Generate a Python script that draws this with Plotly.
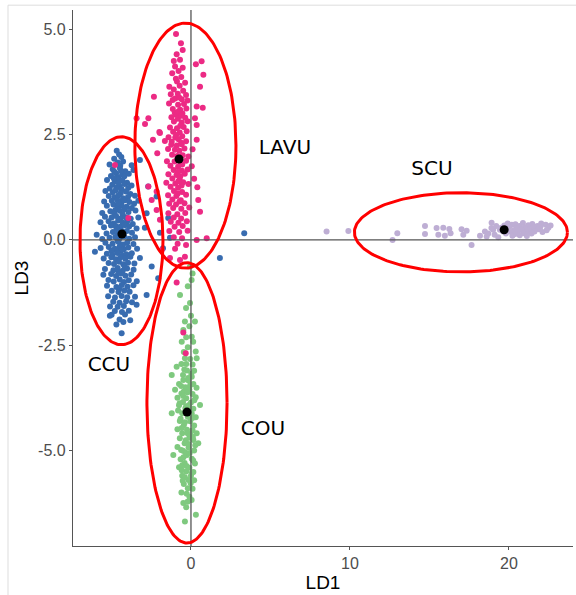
import numpy as np
import plotly.graph_objects as go

# --- discriminant scores (LD1, LD3) per group -------------------------------
ccu_points = [
    (-4.67, 2.12), (-4.52, 2.03), (-4.38, 1.97), (-3.21, 1.90), (-4.83, 1.93), (-5.12, 1.79),
    (-4.61, 1.84), (-3.73, 1.77), (-4.27, 1.86), (-4.45, 1.76),
    (-4.92, 1.68), (-4.48, 1.71), (-4.13, 1.63), (-3.62, 1.66), (-4.71, 1.58), (-4.33, 1.55),
    (-5.03, 1.52), (-4.57, 1.49), (-4.19, 1.51), (-3.91, 1.57), (-4.82, 1.62), (-4.40, 1.64),
    (-5.28, 1.42), (-4.79, 1.38), (-4.62, 1.45), (-4.31, 1.41), (-4.02, 1.36), (-4.95, 1.31),
    (-4.48, 1.27), (-4.18, 1.33), (-3.74, 1.29), (-2.69, 1.27), (-5.11, 1.22), (-4.69, 1.24),
    (-4.36, 1.20), (-3.95, 1.23), (-4.55, 1.35), (-4.85, 1.46),
    (-5.38, 1.16), (-4.92, 1.13), (-4.73, 1.18), (-4.42, 1.11), (-4.09, 1.15), (-3.81, 1.09),
    (-2.16, 1.03), (-5.17, 1.04), (-4.81, 1.01), (-4.56, 1.06), (-4.27, 0.99), (-3.96, 1.02),
    (-3.52, 1.05), (-4.63, 0.95), (-4.98, 0.93), (-4.35, 0.92), (-5.46, 0.91), (-4.15, 0.94),
    (-3.87, 0.90), (-3.31, 0.93),
    (-5.29, 0.81), (-4.88, 0.84), (-4.61, 0.77), (-4.36, 0.82), (-4.04, 0.79), (-3.72, 0.76),
    (-4.75, 0.71), (-4.47, 0.69), (-4.19, 0.73), (-5.07, 0.68), (-3.93, 0.66), (-3.49, 0.70),
    (-5.58, 0.64), (-2.79, 0.63), (-4.82, 0.62), (-4.30, 0.61), (-4.57, 0.87), (-3.58, 0.86),
    (-5.41, 0.55), (-4.99, 0.53), (-4.71, 0.57), (-4.43, 0.51), (-4.11, 0.54), (-3.79, 0.50),
    (-3.31, 0.53), (-1.43, 0.52), (-5.69, 0.42), (-5.18, 0.44), (-4.86, 0.39), (-4.58, 0.46),
    (-4.29, 0.41), (-4.02, 0.43), (-3.66, 0.38), (-4.74, 0.33), (-4.45, 0.31), (-4.16, 0.35),
    (-3.89, 0.32), (-5.03, 0.34), (-5.47, 0.30), (-3.42, 0.27), (-2.90, 0.29),
    (-4.68, 0.26), (-4.37, 0.22), (-4.91, 0.19), (-4.59, 0.16), (-4.25, 0.18), (-4.03, 0.21),
    (-3.71, 0.17), (-5.31, 0.15), (-5.93, 0.12), (-1.95, 0.17), (3.35, 0.16), (-4.76, 0.07),
    (-4.48, 0.04), (-4.19, 0.08), (-3.88, 0.03), (-3.52, 0.06), (-5.12, 0.05), (-5.58, 0.02),
    (-1.32, 0.05), (-4.62, -0.02), (-4.33, 0.11),
    (-5.38, -0.07), (-4.93, -0.09), (-4.55, -0.05), (-4.27, -0.11), (-4.01, -0.06), (-3.62, -0.10),
    (-5.68, -0.19), (-5.17, -0.17), (-4.79, -0.21), (-4.49, -0.16), (-4.22, -0.22), (-3.94, -0.18),
    (-3.39, -0.21), (-1.76, -0.20), (-4.66, -0.27), (-4.38, -0.25), (-6.04, -0.28), (-5.00, -0.26),
    (-5.29, -0.33), (-4.94, -0.36), (-4.63, -0.31), (-4.33, -0.37), (-4.06, -0.34), (-3.72, -0.32),
    (-5.49, -0.44), (-5.01, -0.41), (-4.72, -0.46), (-4.44, -0.42), (-4.13, -0.45), (-3.81, -0.40),
    (-3.21, -0.43), (1.82, -0.43), (-5.18, -0.55), (-4.84, -0.57), (-4.53, -0.52), (-4.26, -0.58),
    (-3.96, -0.54), (-3.56, -0.56),
    (-2.47, -0.63), (-5.41, -0.69), (-4.88, -0.72), (-4.61, -0.67), (-4.29, -0.73), (-4.02, -0.68),
    (-3.61, -0.71), (-5.51, -0.83), (-5.02, -0.81), (-4.71, -0.86), (-4.39, -0.80), (-4.12, -0.85),
    (-3.76, -0.82), (-4.55, -0.76), (-4.17, -0.64), (-2.06, -0.91),
    (-5.19, -0.95), (-4.86, -0.99), (-4.48, -0.94), (-4.21, -1.00), (-3.91, -0.96), (-3.41, -0.98),
    (-5.28, -1.09), (-4.69, -1.12), (-4.35, -1.07), (-3.99, -1.11), (-3.62, -1.08), (-4.52, -1.17),
    (-4.98, -1.21), (-4.56, -1.24), (-4.19, -1.20), (-3.86, -1.23), (-2.79, -1.31), (-5.21, -1.34),
    (-4.78, -1.37), (-4.36, -1.33), (-4.01, -1.36), (-3.52, -1.35), (-4.89, -1.47), (-4.49, -1.49),
    (-4.08, -1.46), (-3.71, -1.48),
    (-3.42, -1.54), (-5.09, -1.58), (-4.61, -1.59), (-4.22, -1.57), (-4.79, -1.69), (-4.34, -1.71),
    (-3.91, -1.68), (-4.99, -1.78), (-4.15, -1.77), (-4.49, -1.89), (-3.82, -1.91), (-4.69, -2.01),
    (-4.36, -2.22), (-5.10, -1.80), (-4.25, -1.95),
]

cou_points = [
    (-0.06, -0.63), (0.10, -0.80), (0.04, -0.95), (-0.20, -1.10), (-0.69, -1.31),
    (-0.06, -1.50), (-0.31, -1.62), (0.00, -1.80), (0.25, -1.94), (-0.38, -1.94),
    (-0.10, -2.05), (-0.48, -2.14), (0.05, -2.30), (-0.30, -2.31), (0.14, -2.42),
    (-0.58, -2.42), (-0.20, -2.55), (0.30, -2.65), (-0.45, -2.66), (0.36, -2.81),
    (-0.38, -2.81), (-0.05, -2.83), (-0.60, -2.95), (0.10, -2.96), (-0.90, -3.01),
    (-0.25, -3.10), (0.20, -3.11), (-1.21, -3.21), (-0.50, -3.21), (0.05, -3.25),
    (-0.48, -3.33), (-0.15, -3.34), (-0.75, -3.42), (0.15, -3.42), (-0.35, -3.50),
    (0.35, -3.51), (-1.00, -3.56), (-0.10, -3.56), (-0.60, -3.65), (0.10, -3.66),
    (-0.85, -3.75), (-0.30, -3.76), (0.30, -3.74), (-0.50, -3.85), (0.00, -3.86),
    (0.57, -3.92), (-0.75, -3.93), (-0.35, -4.00), (0.15, -4.01), (-1.21, -4.12),
    (-0.55, -4.12), (0.05, -4.13), (-0.20, -4.20), (0.30, -4.21), (-0.70, -4.30),
    (-0.05, -4.31), (-0.45, -4.40), (0.20, -4.41), (-0.85, -4.50), (-0.25, -4.51),
    (0.10, -4.52), (0.36, -4.59), (-0.55, -4.59), (-0.10, -4.70), (-0.70, -4.71),
    (0.15, -4.75), (0.46, -4.83), (-0.40, -4.83), (-0.85, -4.92), (-0.15, -4.93),
    (0.20, -5.00), (-0.50, -5.01), (-1.11, -5.11), (-0.25, -5.11), (0.05, -5.20),
    (-0.65, -5.21), (-0.40, -5.30), (0.25, -5.31), (-0.75, -5.40), (-0.10, -5.41),
    (-0.30, -5.50), (0.15, -5.51), (-0.55, -5.60), (-0.15, -5.70), (0.20, -5.71),
    (-0.45, -5.80), (-0.20, -5.90), (0.10, -5.91), (-0.60, -6.00), (-0.10, -6.10),
    (0.04, -6.18), (-0.48, -6.25), (-0.30, -6.35), (0.31, -6.53), (-0.38, -6.69),
    (-0.30, -3.95), (-0.65, -4.25), (-0.20, -4.60), (-0.35, -5.05), (-0.05, -3.45),
    (-0.45, -3.60), (-0.15, -4.85), (-0.55, -5.35), (0.00, -5.60), (-0.30, -2.95),
    (-0.42, -3.08), (0.02, -3.18), (-0.62, -3.47), (-0.22, -3.62), (0.21, -3.81),
    (-0.49, -3.71), (-0.12, -3.92), (-0.81, -4.05), (0.09, -4.23), (-0.38, -4.33),
    (-0.58, -4.47), (-0.02, -4.63), (-0.33, -4.76), (0.27, -4.88), (-0.62, -4.99),
    (-0.08, -5.06), (-0.47, -5.16), (0.14, -5.24), (-0.28, -5.37), (-0.58, -5.47),
    (0.06, -5.53), (-0.38, -5.64), (-0.02, -5.78), (-0.27, -6.03), (-0.11, -4.02),
    (-0.71, -3.88), (-0.18, -3.28), (0.12, -4.68), (-0.52, -5.72), (-0.22, -6.22),
]

lavu_points = [
    (-0.94, 4.89), (-0.63, 4.67), (-0.52, 4.51), (-0.90, 4.41), (-0.69, 4.28), (-1.08, 4.25),
    (0.67, 4.24), (0.31, 4.17), (-1.00, 4.12), (-0.52, 4.09), (-0.78, 4.01), (-1.18, 3.96),
    (0.78, 3.92), (-0.61, 3.87), (-0.95, 3.83),
    (-0.88, 3.76), (-0.37, 3.73), (0.57, 3.64), (-1.36, 3.64), (-0.71, 3.66), (-1.08, 3.57),
    (-0.49, 3.54), (-0.83, 3.47), (-0.31, 3.44), (-1.27, 3.46), (-2.33, 3.40), (-0.99, 3.36),
    (-0.58, 3.34), (-0.22, 3.31), (-0.74, 3.38), (-1.15, 3.32),
    (-1.38, 3.24), (-0.81, 3.21), (-0.44, 3.23), (0.36, 3.17), (0.74, 3.14), (-1.14, 3.11),
    (-0.68, 3.09), (-0.29, 3.12), (-1.02, 3.02), (-0.93, 2.97), (-0.54, 3.01), (-0.79, 3.05),
    (-1.23, 2.91), (-0.82, 2.88), (-0.36, 2.90), (-0.61, 2.95), (-2.68, 2.89), (0.25, 2.89),
    (-3.42, 2.89), (-1.07, 2.81), (-0.58, 2.79), (-0.21, 2.82),
    (-2.89, 2.75), (0.36, 2.73), (-1.32, 2.67), (-0.88, 2.65), (-0.46, 2.68), (-0.67, 2.71),
    (-1.99, 2.56), (-1.12, 2.57), (-0.71, 2.55), (-0.27, 2.58), (-0.93, 2.49), (-1.95, 2.54),
    (-1.41, 2.44), (-0.99, 2.43), (-0.55, 2.46), (-0.78, 2.39), (0.36, 2.38), (-2.39, 2.38),
    (-1.64, 2.35), (-1.21, 2.33), (-0.31, 2.34), (-0.62, 2.31),
    (-1.24, 2.26), (-0.89, 2.24), (-0.58, 2.27), (-1.44, 2.16), (-1.01, 2.14), (-0.41, 2.17),
    (-0.73, 2.12), (0.10, 2.15), (-2.12, 2.06), (-1.19, 2.02), (-0.52, 2.01), (-0.16, 1.98),
    (-0.86, 1.99), (-1.51, 1.87), (-1.03, 1.86), (-0.66, 1.84), (-0.31, 1.88), (-0.84, 1.93),
    (-4.78, 1.78), (-1.29, 1.76), (-0.81, 1.74), (0.05, 1.75), (-0.55, 1.79), (-1.09, 1.66),
    (-0.57, 1.64), (-0.21, 1.67), (-0.83, 1.61), (-1.42, 1.56), (-0.91, 1.54), (-0.39, 1.57),
    (-0.67, 1.51), (-1.17, 1.46), (-0.71, 1.44), (0.20, 1.45), (-1.55, 1.36), (-0.98, 1.34),
    (-0.49, 1.37), (-0.16, 1.33), (-0.79, 1.39),
    (-2.68, 1.27), (-1.28, 1.26), (-0.81, 1.24), (0.40, 1.25), (-0.59, 1.29), (-2.16, 1.15),
    (-1.07, 1.16), (-0.56, 1.14), (-0.83, 1.10), (-1.44, 1.06), (-0.92, 1.04), (-0.31, 1.07),
    (-2.47, 0.95), (0.46, 0.95), (-1.17, 0.96), (-0.64, 0.94), (-1.37, 0.86), (-0.94, 0.84),
    (-0.41, 0.87), (-0.72, 0.91),
    (-1.12, 0.76), (-0.61, 0.74), (-0.11, 0.77), (-2.16, 0.71), (0.57, 0.67), (-1.42, 0.63),
    (-0.86, 0.61), (-0.36, 0.64), (-3.94, 0.52), (-1.08, 0.53), (-0.62, 0.51), (-1.95, 0.48),
    (-1.27, 0.43), (-0.79, 0.41), (-0.26, 0.44), (-1.03, 0.31), (-0.52, 0.33),
    (-1.36, 0.21), (-0.74, 0.19), (-0.21, 0.22), (0.99, 0.04), (-1.08, 0.06), (-0.56, 0.04),
    (0.36, 0.00), (-0.84, -0.09), (-0.31, -0.12), (-1.00, -0.21), (-1.84, -0.24), (-0.38, -0.40),
    (-1.32, -0.43), (-0.69, -0.48), (-0.90, -1.01), (-0.48, -2.20), (-0.33, -2.69),
]

scu_points = [
    (8.53, 0.20), (9.90, 0.21), (12.98, 0.16), (12.68, 0.00), (14.72, 0.33),
    (14.72, 0.14), (15.45, 0.28), (15.87, 0.29), (16.25, 0.26), (15.56, 0.12),
    (15.97, 0.10), (16.33, 0.16), (17.02, 0.25), (17.34, 0.22), (17.13, 0.12),
    (17.65, -0.12), (18.18, 0.10), (18.49, 0.20), (18.60, 0.08), (18.91, 0.41),
    (19.01, 0.24), (19.33, 0.06), (19.43, 0.24), (18.90, 0.28), (19.20, 0.33),
    (18.70, 0.15), (19.10, 0.12),
    (19.92, 0.39), (20.41, 0.37), (20.88, 0.40), (21.47, 0.38), (22.03, 0.39),
    (19.71, 0.34), (20.18, 0.36), (20.66, 0.33), (21.22, 0.35), (21.79, 0.33), (22.31, 0.36), (22.62, 0.34),
    (19.52, 0.29), (20.03, 0.31), (20.47, 0.28), (21.01, 0.30), (21.54, 0.29), (21.98, 0.31), (22.48, 0.29),
    (19.88, 0.25), (20.32, 0.23), (20.79, 0.26), (21.28, 0.24), (21.87, 0.25), (22.37, 0.23),
    (19.63, 0.20), (20.12, 0.19), (20.58, 0.21), (21.09, 0.18), (21.61, 0.20), (22.11, 0.19),
    (19.81, 0.15), (20.39, 0.14), (20.91, 0.16), (21.42, 0.15),
    (20.22, 0.10), (20.68, 0.11), (21.13, 0.09),
]

groups = ["CCU", "COU", "LAVU", "SCU"]
group_points = {"CCU": ccu_points, "COU": cou_points, "LAVU": lavu_points, "SCU": scu_points}
group_colors = {"CCU": "#386cb0", "COU": "#7fc97f", "LAVU": "#ec2a84", "SCU": "#beaed4"}

# group centroids
centroid_ld1 = [-4.34, -0.25, -0.75, 19.70]
centroid_ld3 = [0.14, -4.09, 1.92, 0.24]

# confidence ellipses: centre, semi-axes (LD1, LD3 units)
ellipse_cx = [-4.37, -0.25, -0.35, 16.98]
ellipse_cy = [-0.02, -3.87, 2.24, 0.18]
ellipse_ax = [2.61, 2.52, 3.18, 6.70]
ellipse_ay = [2.47, 3.33, 2.91, 0.94]

# group labels
label_text = ["CCU", "COU", "LAVU", "SCU"]
label_ld1 = [-5.16, 4.53, 5.91, 15.16]
label_ld3 = [-2.99, -4.51, 2.16, 1.66]

x_range = [-7.42, 24.03]
y_range = [-7.27, 5.46]

AXIS_FONT = "Arial, Liberation Sans, sans-serif"

fig = go.Figure()

for g in groups:
    pts = group_points[g]
    fig.add_trace(go.Scatter(
        x=[p[0] for p in pts], y=[p[1] for p in pts], mode="markers",
        marker=dict(size=6, color=group_colors[g], line=dict(width=0)),
        name=g, showlegend=False, hoverinfo="skip",
    ))

# reference lines through the origin
fig.add_trace(go.Scatter(x=x_range, y=[0, 0], mode="lines",
                         line=dict(color="#555555", width=1.3), showlegend=False, hoverinfo="skip"))
fig.add_trace(go.Scatter(x=[0, 0], y=y_range, mode="lines",
                         line=dict(color="#555555", width=1.3), showlegend=False, hoverinfo="skip"))

t = np.linspace(0, 2 * np.pi, 200)
for cx, cy, ax, ay in zip(ellipse_cx, ellipse_cy, ellipse_ax, ellipse_ay):
    fig.add_trace(go.Scatter(
        x=cx + ax * np.cos(t), y=cy + ay * np.sin(t), mode="lines",
        line=dict(color="#ff0000", width=3), showlegend=False, hoverinfo="skip",
    ))

fig.add_trace(go.Scatter(x=centroid_ld1, y=centroid_ld3, mode="markers",
                         marker=dict(size=9, color="black"), showlegend=False))

fig.add_trace(go.Scatter(x=label_ld1, y=label_ld3, mode="text", text=label_text,
                         textfont=dict(family="DejaVu Sans", size=20, color="black"),
                         showlegend=False, hoverinfo="skip"))

axis_common = dict(
    showgrid=False, zeroline=False, showline=True, linecolor="#555555", linewidth=1.3,
    ticks="outside", ticklen=3, tickcolor="#555555", tickwidth=1,
    tickfont=dict(family=AXIS_FONT, size=16, color="#4d4d4d"),
)

fig.update_layout(
    width=576, height=595,
    margin=dict(l=73, r=3, t=10, b=49),
    plot_bgcolor="white", paper_bgcolor="white",
    font=dict(family=AXIS_FONT),
    xaxis=dict(range=x_range, tickvals=[0, 10, 20], ticktext=["0", "10", "20"],
               title=dict(text="LD1", font=dict(family=AXIS_FONT, size=19, color="black"),
                          standoff=4),
               **axis_common),
    yaxis=dict(range=y_range, tickvals=[-5, -2.5, 0, 2.5, 5],
               ticktext=["-5.0", "-2.5", "0.0", "2.5", "5.0"],
               title=dict(text="LD3", font=dict(family=AXIS_FONT, size=19, color="black"),
                          standoff=4),
               **axis_common),
    shapes=[dict(type="rect", xref="paper", yref="paper",
                 x0=-0.13, x1=1.2, y0=-0.2, y1=1.009,
                 line=dict(color="#dddddd", width=1), fillcolor="rgba(0,0,0,0)", layer="below")],
)

fig.write_html("out.html")
